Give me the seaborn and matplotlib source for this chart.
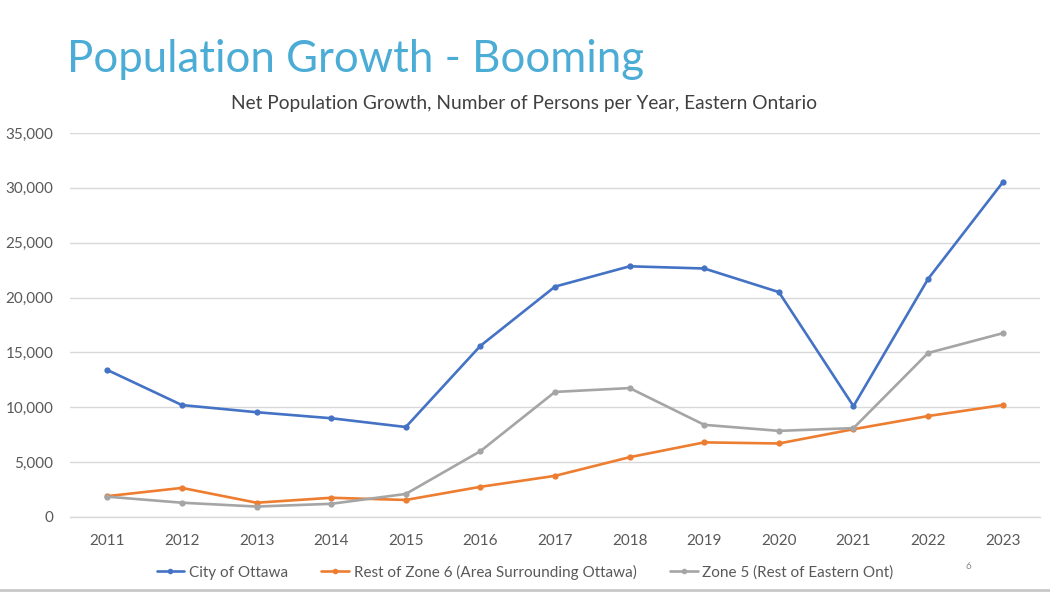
import matplotlib
matplotlib.use("Agg")
import matplotlib.pyplot as plt
import seaborn as sns
import pandas as pd
from matplotlib.lines import Line2D

years = [2011, 2012, 2013, 2014, 2015, 2016, 2017, 2018, 2019, 2020, 2021, 2022, 2023]
ottawa = [13400, 10200, 9550, 9000, 8200, 15600, 21000, 22850, 22650, 20500, 10100, 21700, 30500]
zone6 = [1900, 2650, 1300, 1750, 1550, 2750, 3750, 5450, 6800, 6700, 8000, 9200, 10200]
zone5 = [1850, 1300, 950, 1200, 2100, 6000, 11400, 11750, 8400, 7850, 8100, 14950, 16750]
series_names = ["City of Ottawa", "Rest of Zone 6 (Area Surrounding Ottawa)", "Zone 5 (Rest of Eastern Ont)"]
colors = ["#4472C4", "#ED7D31", "#A5A5A5"]
yticks = [0, 5000, 10000, 15000, 20000, 25000, 30000, 35000]

df = pd.concat([
    pd.DataFrame({"Year": years, "Value": vals, "Series": name})
    for name, vals in zip(series_names, [ottawa, zone6, zone5])
])

sns.set_theme(style="white")
plt.rcParams["font.family"] = ["Lato", "DejaVu Sans"]

fig = plt.figure(figsize=(10.5, 5.93), dpi=100)
ax = fig.add_axes([0.0667, 0.1282, 0.9238, 0.6475])

palette = dict(zip(series_names, colors))
sns.lineplot(data=df, x="Year", y="Value", hue="Series", palette=palette,
             marker="o", markersize=4.5, markeredgewidth=0, linewidth=1.9,
             ax=ax, legend=False)

ax.set_xlim(years[0] - 0.5, years[-1] + 0.5)
ax.set_ylim(0, 35000)
ax.set_yticks(yticks)
ax.set_yticklabels([f"{v:,}" for v in yticks])
ax.set_xticks(years)
ax.set_xticklabels([str(y) for y in years])
ax.yaxis.grid(True, color="#D9D9D9", linewidth=1.0)
ax.xaxis.grid(False)
for s in ["top", "right", "left"]:
    ax.spines[s].set_visible(False)
ax.spines["bottom"].set_color("#D9D9D9")
ax.spines["bottom"].set_linewidth(1.0)
ax.tick_params(axis="both", colors="#595959", labelsize=11, length=0)
ax.tick_params(axis="y", pad=12)
ax.tick_params(axis="x", pad=12)
ax.set_xlabel("")
ax.set_ylabel("")
ax.set_axisbelow(True)

fig.text(0.064, 0.9, "Population Growth - Booming", color="#4BACD6",
         fontsize=31.5, ha="left", va="center")
fig.text(0.499, 0.826, "Net Population Growth, Number of Persons per Year, Eastern Ontario",
         color="#404040", fontsize=13.8, ha="center", va="center")

handles = [Line2D([0], [0], color=c, marker="o", markersize=4, markeredgewidth=0, linewidth=1.9)
           for c in colors]
fig.legend(handles, series_names, loc="center", bbox_to_anchor=(0.5, 0.035),
           ncol=3, frameon=False, fontsize=11, labelcolor="#595959",
           handlelength=1.8, columnspacing=2.2, handletextpad=0.3)

fig.text(0.922, 0.045, "6", color="#888888", fontsize=7, ha="center", va="center")
fig.add_artist(Line2D([0, 1], [0.005, 0.005], color="#C8C8C8", linewidth=2,
                      transform=fig.transFigure))

fig.savefig("out.png", dpi=100, facecolor="white")
